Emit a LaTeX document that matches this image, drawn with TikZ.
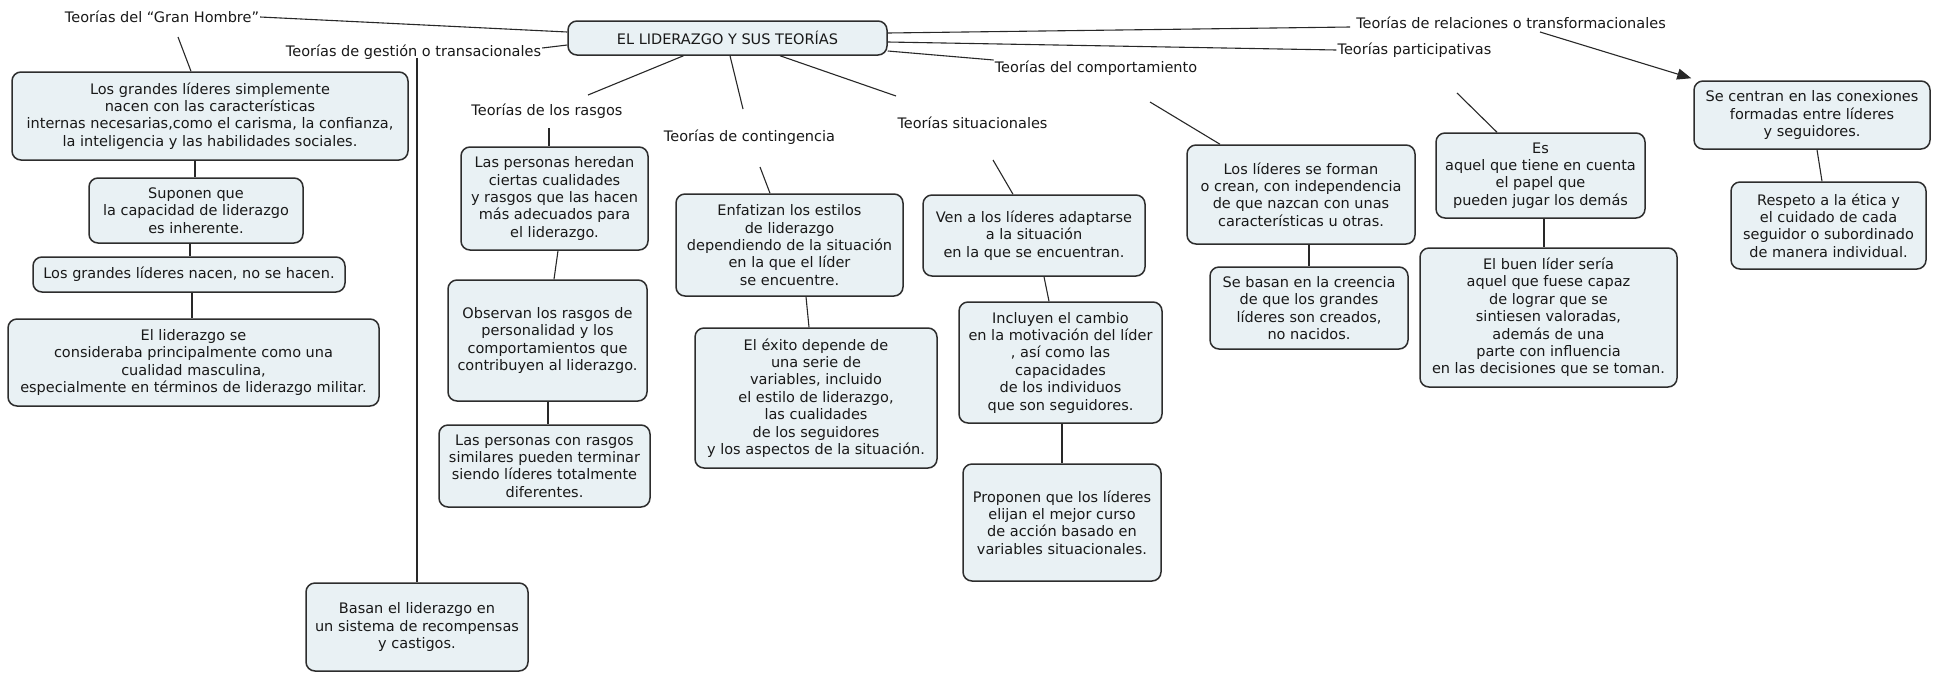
\documentclass[tikz,border=0pt]{standalone}
\usepackage{fontspec}
\setmainfont{DejaVu Sans}
\usetikzlibrary{arrows.meta}
\definecolor{boxfill}{RGB}{233,241,244}
\definecolor{boxline}{RGB}{45,45,45}
\definecolor{txt}{RGB}{25,25,25}
\definecolor{conn}{RGB}{40,40,40}
\begin{document}
\begin{tikzpicture}[x=1pt,y=-1pt,
  font=\fontsize{14.5}{17.4}\selectfont,
  box/.style={draw=boxline, line width=1.5pt, fill=boxfill, rounded corners=9pt, align=center, text=txt, inner sep=2pt},
  lbl/.style={text=txt, inner sep=1pt},
  conn/.style={draw=conn, line width=1.1pt}]
\useasboundingbox (0,0) rectangle (1946,673);
\fill[white] (0,0) rectangle (1946,673);

% central
\node[box, minimum width=319pt, minimum height=34pt] (c) at (727.5,38) {EL LIDERAZGO Y SUS TEORÍAS};

% labels
\node[lbl] (gh) at (162,17) {Teorías del “Gran Hombre”};
\node[lbl] (ge) at (413.5,52) {Teorías de gestión o transacionales};
\node[lbl] (ra) at (547,111) {Teorías de los rasgos};
\node[lbl] (co) at (749.5,137) {Teorías de contingencia};
\node[lbl] (si) at (972.5,123) {Teorías situacionales};
\node[lbl] (cm) at (1096,68) {Teorías del comportamiento};
\node[lbl] (pa) at (1414.5,50) {Teorías participativas};
\node[lbl] (re) at (1511,23) {Teorías de relaciones o transformacionales};

% boxes
\node[box, minimum width=396pt, minimum height=88pt] (b1) at (210,116) {Los grandes líderes simplemente\\nacen con las características\\internas necesarias,como el carisma, la confianza,\\la inteligencia y las habilidades sociales.};
\node[box, minimum width=214pt, minimum height=65pt] (b2) at (196,210.5) {Suponen que\\la capacidad de liderazgo\\es inherente.};
\node[box, minimum width=312pt, minimum height=35pt] (b3) at (189,274.5) {Los grandes líderes nacen, no se hacen.};
\node[box, minimum width=371pt, minimum height=87pt] (b4) at (193.5,362.5) {El liderazgo se\\consideraba principalmente como una\\cualidad masculina,\\especialmente en términos de liderazgo militar.};
\node[box, minimum width=222pt, minimum height=88pt] (ba) at (417,627) {Basan el liderazgo en\\un sistema de recompensas\\y castigos.};
\node[box, minimum width=187pt, minimum height=103pt] (he) at (554.5,198.5) {Las personas heredan\\ciertas cualidades\\y rasgos que las hacen\\más adecuados para\\el liderazgo.};
\node[box, minimum width=199pt, minimum height=121pt] (ob) at (547.5,340.5) {Observan los rasgos de\\personalidad y los\\comportamientos que\\contribuyen al liderazgo.};
\node[box, minimum width=211pt, minimum height=82pt] (cr) at (544.5,466) {Las personas con rasgos\\similares pueden terminar\\siendo líderes totalmente\\diferentes.};
\node[box, minimum width=227pt, minimum height=102pt] (en) at (789.5,245) {Enfatizan los estilos\\de liderazgo\\dependiendo de la situación\\en la que el líder\\se encuentre.};
\node[box, minimum width=242pt, minimum height=140pt] (ex) at (816,398) {El éxito depende de\\una serie de\\variables, incluido\\el estilo de liderazgo,\\las cualidades\\de los seguidores\\y los aspectos de la situación.};
\node[box, minimum width=222pt, minimum height=81pt] (ve) at (1034,235.5) {Ven a los líderes adaptarse\\a la situación\\en la que se encuentran.};
\node[box, minimum width=203pt, minimum height=121pt] (in) at (1060.5,362.5) {Incluyen el cambio\\en la motivación del líder\\, así como las\\capacidades\\de los individuos\\que son seguidores.};
\node[box, minimum width=198pt, minimum height=117pt] (pr) at (1062,522.5) {Proponen que los líderes\\elijan el mejor curso\\de acción basado en\\variables situacionales.};
\node[box, minimum width=228pt, minimum height=99pt] (fo) at (1301,194.5) {Los líderes se forman\\o crean, con independencia\\de que nazcan con unas\\características u otras.};
\node[box, minimum width=198pt, minimum height=82pt] (sb) at (1309,308) {Se basan en la creencia\\de que los grandes\\líderes son creados,\\no nacidos.};
\node[box, minimum width=209pt, minimum height=85pt] (es) at (1540.5,175.5) {Es\\aquel que tiene en cuenta\\el papel que\\pueden jugar los demás};
\node[box, minimum width=257pt, minimum height=139pt] (eb) at (1548.5,317.5) {El buen líder sería\\aquel que fuese capaz\\de lograr que se\\sintiesen valoradas,\\además de una\\parte con influencia\\en las decisiones que se toman.};
\node[box, minimum width=236pt, minimum height=68pt] (sc) at (1812,115) {Se centran en las conexiones\\formadas entre líderes\\y seguidores.};
\node[box, minimum width=195pt, minimum height=87pt] (rs) at (1828.5,225.5) {Respeto a la ética y\\el cuidado de cada\\seguidor o subordinado\\de manera individual.};

% connectors
\draw[conn] (gh.east) -- ([shift={(0,-6)}]c.west);
\draw[conn] ([shift={(16,20)}]gh.center) -- ([shift={(-19,0)}]b1.north);
\draw[conn] ([shift={(0,-4)}]ge.east) -- ([shift={(0,7)}]c.west);
\draw[conn] ([shift={(3.5,6)}]ge.center) -- (ba.north);
\draw[conn] ([shift={(-44,0)}]c.south) -- ([shift={(41,-16)}]ra.center);
\draw[conn] ([shift={(2,17)}]ra.center) -- ([shift={(-5.5,0)}]he.north);
\draw[conn] ([shift={(3.5,0)}]he.south) -- ([shift={(6.5,0)}]ob.north);
\draw[conn] ([shift={(0.5,0)}]ob.south) -- ([shift={(3.5,0)}]cr.north);
\draw[conn] ([shift={(2.5,0)}]c.south) -- ([shift={(-6.5,-28)}]co.center);
\draw[conn] ([shift={(10.5,30)}]co.center) -- ([shift={(-19.5,0)}]en.north);
\draw[conn] ([shift={(16.5,0)}]en.south) -- ([shift={(-7,0)}]ex.north);
\draw[conn] ([shift={(52.5,0)}]c.south) -- ([shift={(-76.5,-27)}]si.center);
\draw[conn] ([shift={(20.5,37)}]si.center) -- ([shift={(-21,0)}]ve.north);
\draw[conn] ([shift={(10,0)}]ve.south) -- ([shift={(-11.5,0)}]in.north);
\draw[conn] ([shift={(1.5,0)}]in.south) -- (pr.north);
\draw[conn] ([shift={(0,13)}]c.east) -- ([shift={(0,-8)}]cm.west);
\draw[conn] ([shift={(54,34)}]cm.center) -- ([shift={(-81,0)}]fo.north);
\draw[conn] ([shift={(8,0)}]fo.south) -- (sb.north);
\draw[conn] ([shift={(0,4)}]c.east) -- (pa.west);
\draw[conn] ([shift={(42.5,43)}]pa.center) -- ([shift={(-43.5,0)}]es.north);
\draw[conn] ([shift={(3.5,0)}]es.south) -- ([shift={(-4.5,0)}]eb.north);
\draw[conn] ([shift={(0,-5)}]c.east) -- ([shift={(-5,4)}]re.west);
\draw[conn, -{Triangle[length=14pt,width=11pt]}] ([shift={(29,9)}]re.center) -- ([shift={(-2,-2)}]sc.north west);
\draw[conn] ([shift={(5,0)}]sc.south) -- ([shift={(-6.5,0)}]rs.north);
\draw[conn] ([shift={(-15,0)}]b1.south) -- ([shift={(-1,0)}]b2.north);
\draw[conn] ([shift={(-6,0)}]b2.south) -- ([shift={(1,0)}]b3.north);
\draw[conn] ([shift={(3,0)}]b3.south) -- ([shift={(-1.5,0)}]b4.north);
\end{tikzpicture}
\end{document}
